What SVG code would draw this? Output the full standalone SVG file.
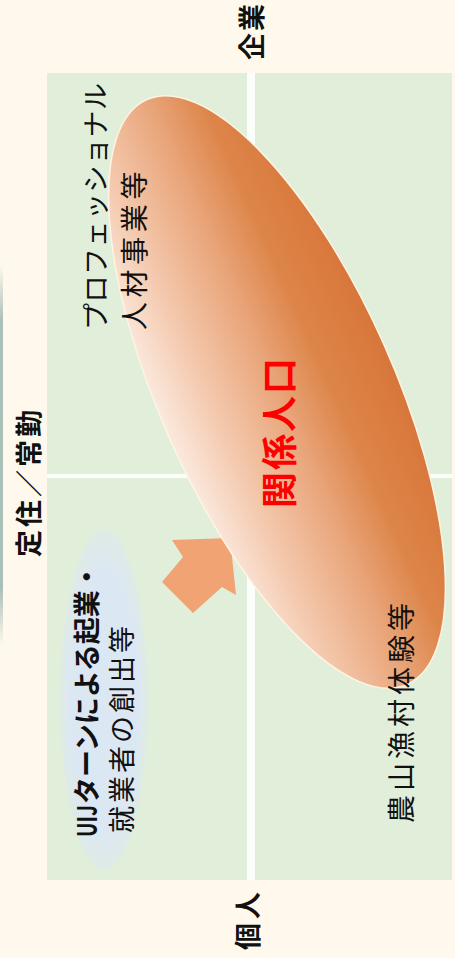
<svg xmlns="http://www.w3.org/2000/svg" width="455" height="958" viewBox="0 0 455 958">
<defs>
<style>
.t{font-family:"Noto Sans CJK JP","Noto Sans CJK SC",sans-serif;fill:#111;dominant-baseline:central}
.ax{font-size:27px;font-weight:bold}
.lb{font-size:27px}
</style>
<linearGradient id="og" x1="0" y1="1" x2="0" y2="0">
<stop offset="0" stop-color="#FBE9DE"/>
<stop offset="0.22" stop-color="#F4C9AE"/>
<stop offset="0.5" stop-color="#E9A57A"/>
<stop offset="0.72" stop-color="#DD8549"/>
<stop offset="1" stop-color="#D8763A"/>
</linearGradient>
<radialGradient id="bg" cx="0.5" cy="0.5" r="0.5">
<stop offset="0.75" stop-color="#DCE7F4"/>
<stop offset="1" stop-color="#DCE7F4" stop-opacity="0.4"/>
</radialGradient>
<linearGradient id="lg" x1="0" y1="0" x2="0" y2="1">
<stop offset="0" stop-color="#A9BFB9" stop-opacity="0"/>
<stop offset="0.15" stop-color="#A9BFB9"/>
<stop offset="0.85" stop-color="#A9BFB9"/>
<stop offset="1" stop-color="#A9BFB9" stop-opacity="0"/>
</linearGradient>
</defs>
<rect x="0" y="0" width="455" height="958" fill="#FEF9EC"/>
<rect x="0" y="265" width="3" height="380" fill="url(#lg)"/>
<g id="panel">
<rect x="47" y="73" width="405" height="807" fill="#E1EEDA"/>
<rect x="247" y="73" width="8" height="807" fill="#FFFFFF" opacity="0.9"/>
<rect x="47" y="474" width="405" height="4" fill="#FFFFFF" opacity="0.9"/>
</g>
<g id="axis-labels">
<text class="t ax" transform="translate(250,60) rotate(-90)" letter-spacing="2">企業</text>
<text class="t ax" transform="translate(246,950) rotate(-90)" letter-spacing="4">個人</text>
<text class="t ax" transform="translate(27,557) rotate(-90)" letter-spacing="3">定住／常勤</text>
</g>
<g id="uij">
<ellipse cx="104" cy="700" rx="44" ry="171" fill="url(#bg)"/>
<text class="t lb" font-weight="bold" transform="translate(85,837) rotate(-90)" textLength="32" lengthAdjust="spacingAndGlyphs">UIJ</text>
<text class="t lb" font-weight="bold" transform="translate(85,804) rotate(-90)">ターンによる起業・</text>
<text class="t lb" transform="translate(120,833) rotate(-90)" letter-spacing="3">就業者の創出等</text>
</g>
<g id="connectors">
<polygon points="230,538 172,540 183,557 162,582 193,613 222,587 236,595" fill="#F2A374"/>
</g>
<g id="kankei">
<ellipse cx="277" cy="392" rx="320" ry="117" transform="rotate(66 277 392)" fill="url(#og)" stroke="#FFF3E2" stroke-width="1.5"/>
<text class="t" font-size="36" font-weight="bold" fill="#FF0000" style="fill:#FF0000" transform="translate(277,508) rotate(-90)" letter-spacing="2">関係人口</text>
</g>
<g id="pro">
<text class="t lb" transform="translate(94,330) rotate(-90)" letter-spacing="0.5">プロフェッショナル</text>
<text class="t lb" font-size="28" transform="translate(133,330) rotate(-90)" letter-spacing="4.6" style="font-size:28px">人材事業等</text>
</g>
<g id="noson">
<text class="t lb" transform="translate(400,823) rotate(-90)" letter-spacing="4" style="font-size:28px">農山漁村体験等</text>
</g>
</svg>
